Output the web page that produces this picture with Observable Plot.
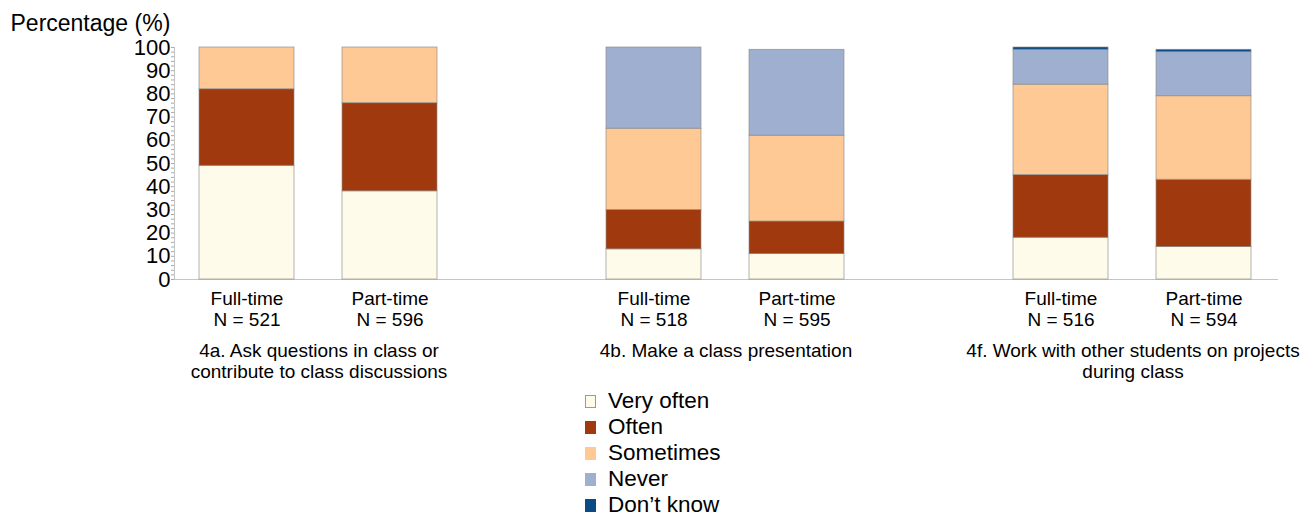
<!DOCTYPE html>
<html><head><meta charset="utf-8">
<script src="https://cdn.jsdelivr.net/npm/d3@7"></script>
<script src="https://cdn.jsdelivr.net/npm/@observablehq/plot@0.6"></script>
<style>
body{margin:0;background:#fff;font-family:"Liberation Sans",Arial,sans-serif;overflow:hidden;}
#chart{position:relative;width:1315px;height:517px;}
#legend{position:absolute;left:585px;top:388px;font-size:22.5px;line-height:26px;color:#000;}
.row{display:flex;align-items:center;height:26px;}
.sw{width:11px;height:13px;margin-right:12px;border:1px solid #999;box-sizing:border-box;}
</style></head><body><div id="chart"></div>
<script>
const groups = ["4a","4b","4f"];
const groupLabels = ["4a. Ask questions in class or\ncontribute to class discussions","4b. Make a class presentation","4f. Work with other students on projects\nduring class"];
const statuses = ["Full-time","Part-time"];
const nFullTime = [521,518,516];
const nPartTime = [596,595,594];
const categories = ["Very often","Often","Sometimes","Never","Don’t know"];
const colors = ["#FFFBEB","#A0390D","#FEC994","#9FAFD0","#0B4A85"];
const yTitle = "Percentage (%)";
// one value per bar: 4a FT, 4a PT, 4b FT, 4b PT, 4f FT, 4f PT
const veryOften = [49,38,13,11,18,14];
const often = [33,38,17,14,27,29];
const sometimes = [18,24,35,37,39,36];
const never = [0,0,35,37,15,19];
const dontKnow = [0,0,0,0,1,1];
const yTicks = d3.range(0,101,10);
const yMinorTicks = d3.range(0,101,2);

const series = [veryOften, often, sometimes, never, dontKnow];
const bars = groups.flatMap((g,gi)=>statuses.map((s,si)=>({g, s, i: gi*2+si, n: si===0?nFullTime[gi]:nPartTime[gi]})));
const rows = bars.flatMap(b => categories.map((c,ci)=>({g:b.g, s:b.s, c, v: series[ci][b.i]}))).filter(d=>d.v>0);
const labelRows = bars.map(b=>({g:b.g, s:b.s, text:`${b.s}\nN = ${b.n}`}));
const groupRows = groups.map((g,gi)=>({g, label: groupLabels[gi]}));

const plot = Plot.plot({
  width:1315, height:385,
  marginLeft:173, marginRight:36, marginTop:47, marginBottom:106,
  style:{fontFamily:"Liberation Sans, Arial, sans-serif", background:"transparent", color:"#000"},
  fx:{domain:groups, paddingInner:0.289, paddingOuter:0, axis:null, label:null},
  x:{domain:statuses, paddingInner:1/3, paddingOuter:0.1736, axis:null},
  y:{domain:[0,100], axis:null},
  color:{domain:categories, range:colors},
  marks:[
    Plot.frame({anchor:"bottom", facet:"super", stroke:"#c4c4c4"}),
    Plot.barY(rows, {fx:"g", x:"s", y:"v", fill:"c", order:categories, stroke:"#8a8a8a", strokeWidth:0.8, strokeOpacity:0.8}),
    Plot.axisY({ticks:yMinorTicks, tickSize:3, tickFormat:()=>"", stroke:"#aaa", label:null}),
    Plot.axisY({ticks:yTicks, tickSize:0, tickPadding:4, fontSize:22, label:null}),
    Plot.frame({anchor:"left", facet:"super", stroke:"#c4c4c4"}),
    Plot.text([yTitle], {facet:"super", frameAnchor:"top-left", textAnchor:"start", lineAnchor:"bottom", dx:-164, dy:-17, fontSize:23}),
    Plot.text(labelRows, {fx:"g", x:"s", text:"text", frameAnchor:"bottom", lineAnchor:"top", dy:10, fontSize:19, lineHeight:1.13}),
    Plot.text(groupRows, {fx:"g", text:"label", frameAnchor:"bottom", lineAnchor:"top", dy:62, fontSize:19, lineHeight:1.12})
  ]
});
const chart = document.getElementById("chart");
chart.appendChild(plot);
const legend = document.createElement("div");
legend.id = "legend";
legend.innerHTML = categories.map((c,i)=>`<div class="row"><span class="sw" style="background:${colors[i]};border-color:${i===0?'#999':colors[i]}"></span><span>${c}</span></div>`).join("");
chart.appendChild(legend);
</script></body></html>
